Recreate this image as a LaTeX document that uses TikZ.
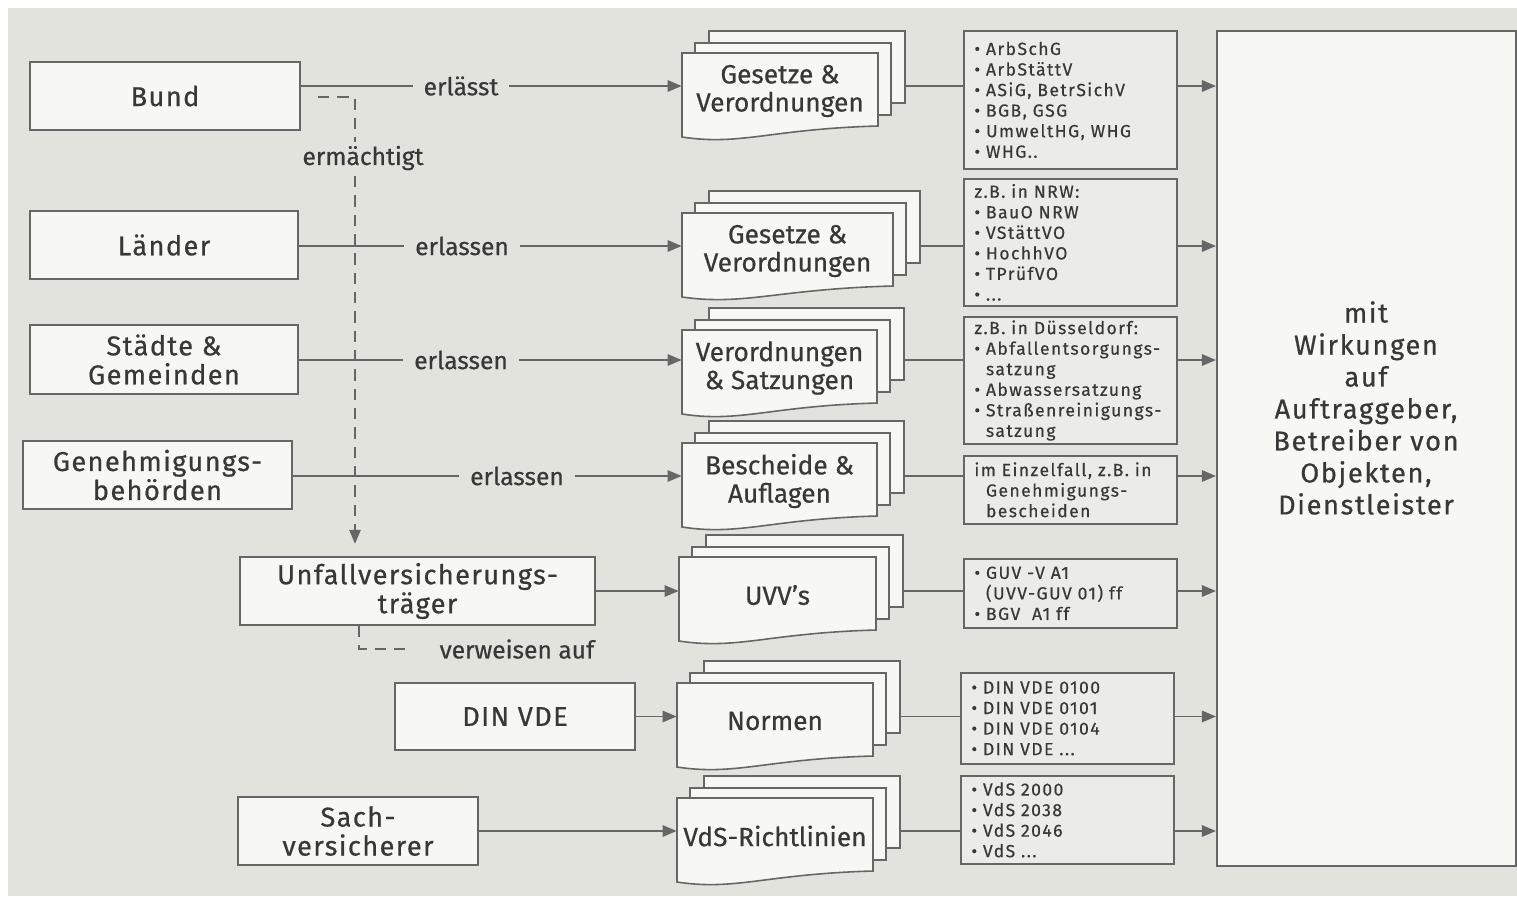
\documentclass[tikz,border=0pt]{standalone}
\usepackage{fontspec}
\setmainfont{Fira Sans}[FakeBold=0.5]
\newfontfamily\boxfont{Fira Sans}[FakeBold=0.6, LetterSpace=5]
\newfontfamily\listfont{Fira Sans}[FakeBold=0.4, LetterSpace=8]
\newfontfamily\bigfont{Fira Sans}[FakeBold=0.6, LetterSpace=6]
\usetikzlibrary{arrows.meta}

\definecolor{paper}{HTML}{E3E3DE}
\definecolor{sheet}{HTML}{F7F7F3}
\definecolor{listfill}{HTML}{EBEBE7}
\definecolor{ink}{HTML}{383838}
\definecolor{rule}{HTML}{666666}

\tikzset{
  pxw/.style={minimum width=#1*0.02cm},
  pxh/.style={minimum height=#1*0.02cm},
  body/.style={draw=rule, line width=1pt, fill=sheet, text=ink, align=center,
    inner sep=0pt, font=\boxfont\fontsize{15.5}{16.5}\selectfont},
  verb/.style={text=ink, fill=paper, inner xsep=6pt, inner ysep=2pt,
    font=\fontsize{14}{16}\selectfont},
  page/.style={draw=rule, line width=0.9pt, fill=sheet},
  doctext/.style={text=ink, align=center, inner sep=0pt,
    font=\fontsize{15}{16}\selectfont},
  listbox/.style={draw=rule, line width=1pt, fill=listfill, text=ink,
    align=left, anchor=north west, text width=3.84cm, inner xsep=6pt,
    inner ysep=2pt, font=\listfont\fontsize{10}{11.7}\selectfont},
  link/.style={draw=rule, line width=1pt},
  arrow/.style={link, -{Triangle[length=8pt, width=6.5pt]}},
  dashlink/.style={link, dash pattern=on 6.5pt off 4.5pt},
}

% a stack of three sheets; the front one has a wavy lower edge
% #1 name, #2 left x, #3 top y, #4 width, #5 text
\newcommand\docstack[5]{%
  \node[page, pxw=#4, pxh=72, anchor=north west, inner sep=0pt] (#1c) at (#2+26,#3-23) {};
  \node[page, pxw=#4, pxh=72, anchor=north west, inner sep=0pt] (#1b) at (#2+12,#3-11) {};
  \filldraw[page] (#2,#3) -- (#2+#4,#3) -- (#2+#4,#3+73)
    .. controls (#2+0.45*#4,#3+76) and (#2+0.3*#4,#3+93) .. (#2,#3+84) -- cycle;
  \node[doctext, pxw=#4, pxh=76] (#1) at (#2+0.5*#4,#3+38) {#5};
}
\newcommand\ind{\hphantom{\textbullet\ }}

\begin{document}
\begin{tikzpicture}[x=0.02cm, y=-0.02cm]
\useasboundingbox (0,0) rectangle (1517,896);
\fill[white] (0,0) rectangle (1517,896);
\fill[paper] (8,8) rectangle (1517,896);

% issuing bodies
\node[body, pxw=270, pxh=68] (bund)    at (165,96)    {Bund};
\node[body, pxw=268, pxh=68] (laender) at (164,245)   {Länder};
\node[body, pxw=268, pxh=69] (staedte) at (164,359.5) {Städte \&\\Gemeinden};
\node[body, pxw=269, pxh=68] (genehm)  at (157.5,475) {Genehmigungs-\\behörden};
\node[body, pxw=355, pxh=68] (uvt)     at (417.5,591) {Unfallversicherungs-\\träger};
\node[body, pxw=240, pxh=67] (dinvde)  at (515,716.5) {DIN VDE};
\node[body, pxw=240, pxh=68] (sach)    at (358,831)   {Sach-\\versicherer};

% documents
\docstack{s1}{682}{53}{196}{Gesetze \&\\Verordnungen}
\docstack{s2}{682}{213}{211}{Gesetze \&\\Verordnungen}
\docstack{s3}{682}{330}{195}{Verordnungen\\\& Satzungen}
\docstack{s4}{682}{443}{195}{Bescheide \&\\Auflagen}
\docstack{s5}{679}{557}{197}{UVV's}
\docstack{s6}{677}{683}{196}{Normen}
\docstack{s7}{677}{798}{196}{VdS-Richtlinien}

% examples
\node[listbox, pxh=138] (lA) at (963,30) {\textbullet\ ArbSchG\\\textbullet\ ArbStättV\\\textbullet\ ASiG, BetrSichV\\\textbullet\ BGB, GSG\\\textbullet\ UmweltHG, WHG\\\textbullet\ WHG..};
\node[listbox, pxh=127] (lB) at (963,178) {z.B. in NRW:\\\textbullet\ BauO NRW\\\textbullet\ VStättVO\\\textbullet\ HochhVO\\\textbullet\ TPrüfVO\\\textbullet\ ...};
\node[listbox, pxh=125] (lC) at (963,316) {z.B. in Düsseldorf:\\\textbullet\ Abfallentsorgungs-\\\ind satzung\\\textbullet\ Abwassersatzung\\\textbullet\ Straßenreinigungs-\\\ind satzung};
\node[listbox, pxh=68] (lD) at (963,455) {im Einzelfall, z.B. in\\\ind Genehmigungs-\\\ind bescheiden};
\node[listbox, pxh=69] (lE) at (963,558) {\textbullet\ GUV -V A1\\\ind (UVV-GUV 01) ff\\\textbullet\ BGV\ \ A1 ff};
\node[listbox, pxh=91] (lF) at (960,672) {\textbullet\ DIN VDE 0100\\\textbullet\ DIN VDE 0101\\\textbullet\ DIN VDE 0104\\\textbullet\ DIN VDE ...};
\node[listbox, pxh=88] (lG) at (960,775) {\textbullet\ VdS 2000\\\textbullet\ VdS 2038\\\textbullet\ VdS 2046\\\textbullet\ VdS ...};

% affected parties
\node[draw=rule, line width=1pt, fill=sheet, anchor=north west, pxw=299, pxh=835] (big) at (1216,30) {};
\node[text=ink, align=center, font=\bigfont\fontsize{15.5}{18.2}\selectfont] (effect) at (1366,408)
  {mit\\Wirkungen\\auf\\Auftraggeber,\\Betreiber von\\Objekten,\\Dienstleister};

% dashed delegation lines
\coordinate (dstart) at (318,97);
\coordinate (dturn) at (355,97);
\draw[dashlink, -{Triangle[length=8pt, width=6.5pt]}, shorten >=7pt]
  (dstart) -- (dturn) -- (uvt.north -| dturn);
\coordinate (vbend) at (359,649);
\draw[dashlink] (uvt.south -| vbend) -- (vbend) -- (vbend -| 405,0);

% verbs
\node[verb] (erlA) at (461,86)  {erlässt};
\node[verb] (erm)  at (363,158) {ermächtigt};
\node[verb] (erlB) at (462,246) {erlassen};
\node[verb] (erlC) at (461,360) {erlassen};
\node[verb] (erlD) at (517,476) {erlassen};
\node[verb] (verw) at (517,649) {verweisen auf};

% row 1
\draw[link]  (bund.east |- erlA) -- (erlA.west);
\draw[arrow] (erlA.east) -- (erlA.east -| s1.west);
\draw[link]  (s1c.east |- erlA) -- (lA.west |- erlA);
\draw[arrow] (lA.east |- erlA) -- (big.west |- erlA);
% row 2
\draw[link]  (laender.east |- erlB) -- (erlB.west);
\draw[arrow] (erlB.east) -- (erlB.east -| s2.west);
\draw[link]  (s2c.east |- erlB) -- (lB.west |- erlB);
\draw[arrow] (lB.east |- erlB) -- (big.west |- erlB);
% row 3
\draw[link]  (staedte.east |- erlC) -- (erlC.west);
\draw[arrow] (erlC.east) -- (erlC.east -| s3.west);
\draw[link]  (s3c.east |- erlC) -- (lC.west |- erlC);
\draw[arrow] (lC.east |- erlC) -- (big.west |- erlC);
% row 4
\draw[link]  (genehm.east |- erlD) -- (erlD.west);
\draw[arrow] (erlD.east) -- (erlD.east -| s4.west);
\draw[link]  (s4c.east |- erlD) -- (lD.west |- erlD);
\draw[arrow] (lD.east |- erlD) -- (big.west |- erlD);
% row 5
\draw[arrow] (uvt.east) -- (uvt.east -| s5.west);
\draw[link]  (s5c.east |- uvt) -- (lE.west |- uvt);
\draw[arrow] (lE.east |- uvt) -- (big.west |- uvt);
% row 6
\draw[arrow] (dinvde.east) -- (dinvde.east -| s6.west);
\draw[link]  (s6c.east |- dinvde) -- (lF.west |- dinvde);
\draw[arrow] (lF.east |- dinvde) -- (big.west |- dinvde);
% row 7
\draw[arrow] (sach.east) -- (sach.east -| s7.west);
\draw[link]  (s7c.east |- sach) -- (lG.west |- sach);
\draw[arrow] (lG.east |- sach) -- (big.west |- sach);
\end{tikzpicture}
\end{document}
